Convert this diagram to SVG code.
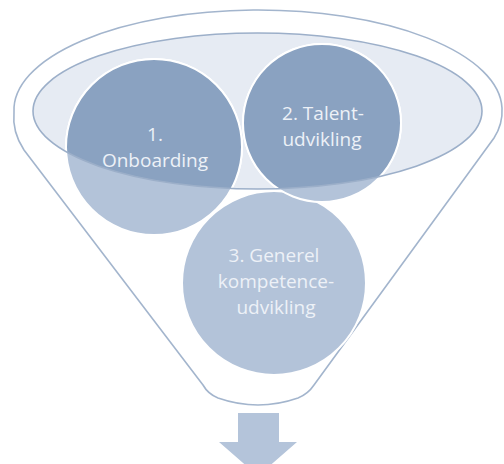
<svg xmlns="http://www.w3.org/2000/svg" width="504" height="464" viewBox="0 0 504 464">
<style>
.funnel{fill:#ffffff;stroke:#a3b5cd;stroke-width:1.6}
.rim{fill:#e6ebf3;stroke:none}
.rimline{fill:none;stroke:#9cafc9;stroke-width:1.6}
.circ{fill:#b3c3d9;stroke:#ffffff;stroke-width:2}
.dark{fill:#8aa2c1;stroke:#ffffff;stroke-width:2}
.lbl{font-family:"Open Sans","Liberation Sans",sans-serif;font-size:19px;fill:#edf1f7;text-anchor:middle}
.arrow{fill:#b4c4da}
</style>
<defs>
<clipPath id="rimClip"><ellipse cx="257.5" cy="111" rx="224.5" ry="78"/></clipPath>
</defs>
<g id="funnel">
<path class="funnel" d="M 203 385 L 24 150 Q 12 132 14 112 A 244 100 0 0 1 502 108 Q 503 124 494 138 L 314 385 Q 308 394 298 398 Q 258 412 218 398 Q 208 394 203 385 Z"/>
<ellipse class="rim" cx="257.5" cy="111" rx="224.5" ry="78"/>
</g>
<g id="node3">
<circle class="circ" cx="274" cy="283" r="92"/>
</g>
<g id="node1">
<circle class="circ" cx="154" cy="147" r="88"/>
<circle class="dark" cx="154" cy="147" r="88" clip-path="url(#rimClip)"/>
</g>
<g id="node2">
<circle class="circ" cx="322" cy="123" r="79"/>
<circle class="dark" cx="322" cy="123" r="79" clip-path="url(#rimClip)"/>
</g>
<ellipse class="rimline" cx="257.5" cy="111" rx="224.5" ry="78"/>
<g id="labels">
<text class="lbl" x="155" y="141">1.</text>
<text class="lbl" x="155" y="167">Onboarding</text>
<text class="lbl" x="323" y="120">2. Talent-</text>
<text class="lbl" x="322" y="146">udvikling</text>
<text class="lbl" x="274" y="262">3. Generel</text>
<text class="lbl" x="276" y="288">kompetence-</text>
<text class="lbl" x="276" y="314">udvikling</text>
</g>
<g id="connectors">
<path class="arrow" d="M 238 413 L 279 413 L 279 442 L 297 442 L 258 476 L 219 442 L 238 442 Z"/>
</g>
</svg>
